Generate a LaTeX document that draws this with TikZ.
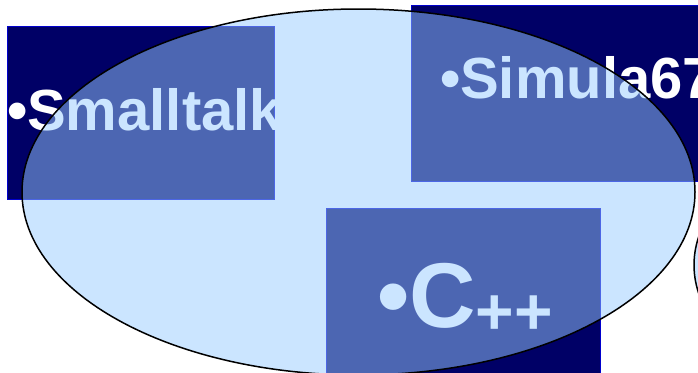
\documentclass[tikz,border=0pt]{standalone}
\usepackage{fontspec}
\setmainfont{Liberation Sans}
\usetikzlibrary{shapes.geometric}
\definecolor{navy}{HTML}{000066}
\definecolor{rborder}{HTML}{0000CC}
\definecolor{ellfill}{HTML}{99CCFF}
\begin{document}
\begin{tikzpicture}[x=1pt,y=-1pt,
  langbox/.style={draw=rborder, line width=0.8pt, fill=navy, inner sep=0pt, outer sep=0pt, anchor=north west},
  langtext/.style={text=white, font=\bfseries\fontsize{58}{58}\selectfont, inner sep=0pt, outer sep=0pt, anchor=base west},
  cloudshape/.style={ellipse, draw=black, line width=1.5pt, fill=ellfill, fill opacity=0.5, draw opacity=1, inner sep=0pt, outer sep=0pt}]
\useasboundingbox (0,0) rectangle (698,372);
\fill[white] (0,0) rectangle (698,372);
\node[langbox, minimum width=267pt, minimum height=173pt] (st) at (7,26) {};
\node[langbox, minimum width=300pt, minimum height=176pt] (sim) at (411,5) {};
\node[langbox, minimum width=274pt, minimum height=180pt] (cpp) at (326,208) {};
\begin{scope}
  \clip (st.north west) rectangle (st.south east);
  \node[langtext] (stt) at (7,130) {•Smalltalk};
\end{scope}
\begin{scope}
  \clip (sim.north west) rectangle (sim.south east);
  \node[langtext] (simt) at (440,98) {•Simula67};
\end{scope}
\begin{scope}
  \clip (cpp.north west) rectangle (cpp.south east);
  \node[langtext] (cppt) at (377,327) {{\fontsize{92}{92}\selectfont •C}{\fontsize{66}{66}\selectfont\raisebox{-7pt}{++}}};
\end{scope}
\node[cloudshape, minimum width=673pt, minimum height=366pt] (oo) at (358.5,192) {};
\node[cloudshape, minimum width=600pt, minimum height=320pt] (oo2) at (994,265) {};
\end{tikzpicture}
\end{document}
